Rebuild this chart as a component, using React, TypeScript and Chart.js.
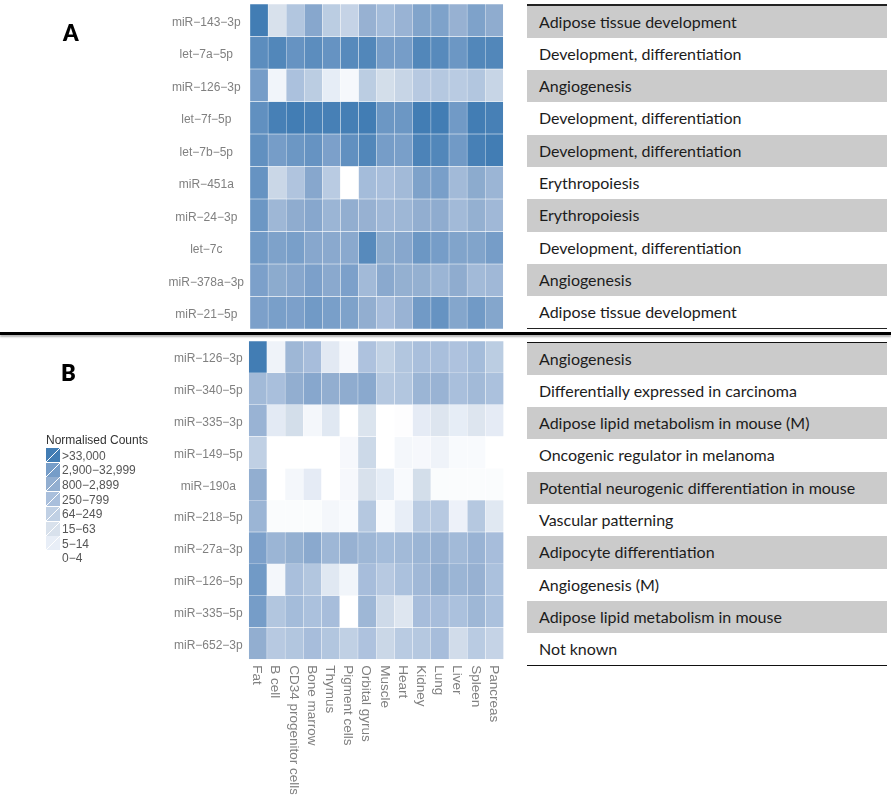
import React, { useEffect, useRef } from "react";
import { Chart, registerables } from "chart.js";

Chart.register(...registerables);

const tissues = ["Fat", "B cell", "CD34 progenitor cells", "Bone marrow", "Thymus", "Pigment cells", "Orbital gyrus", "Muscle", "Heart", "Kidney", "Lung", "Liver", "Spleen", "Pancreas"];

const labelsA = ["miR−143−3p", "let−7a−5p", "miR−126−3p", "let−7f−5p", "let−7b−5p", "miR−451a", "miR−24−3p", "let−7c", "miR−378a−3p", "miR−21−5p"];
const labelsB = ["miR−126−3p", "miR−340−5p", "miR−335−3p", "miR−149−5p", "miR−190a", "miR−218−5p", "miR−27a−3p", "miR−126−5p", "miR−335−5p", "miR−652−3p"];

const notesA = ["Adipose tissue development", "Development, differentiation", "Angiogenesis", "Development, differentiation", "Development, differentiation", "Erythropoiesis", "Erythropoiesis", "Development, differentiation", "Angiogenesis", "Adipose tissue development"];
const notesB = ["Angiogenesis", "Differentially expressed in carcinoma", "Adipose lipid metabolism in mouse (M)", "Oncogenic regulator in melanoma", "Potential neurogenic differentiation in mouse", "Vascular patterning", "Adipocyte differentiation", "Angiogenesis (M)", "Adipose lipid metabolism in mouse", "Not known"];

// Estimated colour class per cell (0 = 0–4 counts … 7 = >33,000 counts), fractions for in-between shades.
const a143 = [7.0, 2.0, 3.6, 5.4, 3.2, 2.8, 4.8, 4.2, 4.7, 5.6, 5.7, 4.8, 5.7, 5.1];
const a7a = [6.5, 6.7, 6.3, 6.5, 6.3, 6.6, 6.7, 6.0, 6.0, 6.7, 6.6, 6.2, 6.7, 6.7];
const a126 = [6.0, 0.6, 3.9, 3.2, 1.1, 0.4, 3.2, 2.2, 2.7, 3.4, 3.5, 3.3, 3.6, 2.7];
const a7f = [6.4, 6.9, 7.0, 6.9, 6.9, 6.95, 7.0, 6.2, 6.2, 7.0, 7.0, 6.1, 7.0, 6.9];
const a7b = [6.4, 6.0, 6.2, 6.3, 5.8, 6.4, 6.7, 6.0, 5.9, 6.8, 6.7, 6.1, 6.9, 7.0];
const a451 = [6.3, 2.6, 3.7, 5.4, 3.3, 0, 4.2, 4.0, 4.3, 5.7, 5.9, 4.3, 5.2, 4.6];
const a24 = [6.2, 4.5, 5.1, 5.4, 4.6, 5.0, 4.8, 4.4, 4.5, 5.0, 5.1, 4.3, 4.9, 4.4];
const a7c = [6.1, 5.7, 5.9, 5.4, 5.3, 5.3, 6.6, 5.2, 5.4, 6.2, 6.0, 5.6, 5.6, 6.0];
const a378 = [5.8, 5.2, 5.4, 5.8, 5.3, 5.8, 4.3, 5.3, 4.9, 4.9, 4.6, 5.1, 4.3, 4.4];
const a21 = [5.8, 5.9, 5.8, 6.1, 5.9, 5.7, 5.0, 4.1, 4.7, 6.1, 6.3, 5.5, 6.1, 5.5];

const b126a = [7.0, 0.7, 4.5, 4.1, 1.4, 0.4, 3.8, 2.9, 3.6, 4.0, 4.0, 3.8, 4.2, 3.2];
const b340 = [4.3, 4.0, 5.0, 5.4, 5.0, 5.1, 5.3, 3.5, 3.6, 4.6, 4.7, 4.0, 4.3, 3.9];
const b335a = [4.7, 1.3, 2.2, 0.5, 1.5, 0, 1.8, 0, 0.1, 1.2, 1.7, 1.1, 1.7, 1.2];
const b149 = [3.0, 0, 0, 0, 0, 0.4, 2.5, 0, 0.5, 0.4, 0.7, 0.3, 0.3, 0];
const b190 = [5.0, 0, 0.5, 1.2, 0, 0.4, 2.0, 1.1, 0.3, 2.2, 0.2, 0.2, 0.2, 0.2];
const b218 = [4.6, 0.2, 0.2, 0.2, 0.5, 0.3, 3.5, 0.3, 1.0, 3.3, 3.4, 0.8, 3.5, 1.5];
const b27 = [5.8, 4.6, 4.9, 5.3, 4.5, 4.8, 4.5, 4.2, 4.3, 4.6, 4.8, 4.3, 4.7, 4.1];
const b126b = [6.1, 0.5, 4.0, 3.6, 1.5, 0.6, 4.1, 3.4, 3.9, 4.4, 5.0, 4.6, 4.8, 3.9];
const b335b = [6.0, 3.6, 4.2, 3.9, 4.1, 0, 4.5, 2.4, 1.6, 4.1, 4.1, 3.9, 4.5, 3.9];
const b652 = [5.0, 3.4, 3.6, 4.1, 3.6, 3.0, 3.8, 2.6, 3.3, 3.5, 4.1, 2.3, 3.3, 2.8];

const rowsA = [a143, a7a, a126, a7f, a7b, a451, a24, a7c, a378, a21];
const rowsB = [b126a, b340, b335a, b149, b190, b218, b27, b126b, b335b, b652];

const legendLabels = [">33,000", "2,900−32,999", "800−2,899", "250−799", "64−249", "15−63", "5−14", "0−4"];
const legendLevels = [7, 6, 5, 4, 3, 2, 1, 0];

const RAMP = [
  [255, 255, 255],
  [232, 238, 247],
  [216, 225, 236],
  [192, 208, 228],
  [169, 191, 220],
  [146, 174, 208],
  [118, 157, 200],
  [66, 125, 180],
];

function colorOf(level: number) {
  const lo = Math.min(Math.floor(level), 6);
  const t = level - lo;
  const c = RAMP[lo].map((v, i) => Math.round(v + (RAMP[lo + 1][i] - v) * t));
  return `rgb(${c[0]},${c[1]},${c[2]})`;
}

const noPadding = () => ({ left: 0, top: 0, right: 0, bottom: 0 });

function makeHeat(canvas: HTMLCanvasElement, rowLabels: string[], rows: number[][], padding: any, axisWidth: number, showX: boolean, xHeight: number) {
  return new Chart(canvas, {
    type: "bar",
    data: {
      labels: tissues,
      datasets: rows.map((row, r) => ({
        label: rowLabels[r],
        data: row.map(() => [r, r + 1]),
        backgroundColor: row.map(colorOf),
        borderColor: "rgba(255,255,255,0.32)",
        borderWidth: 0.5,
        borderSkipped: false,
        barPercentage: 1,
        categoryPercentage: 1,
        grouped: false,
      })),
    } as any,
    options: {
      responsive: false,
      animation: false,
      devicePixelRatio: 1,
      events: [],
      layout: { autoPadding: false, padding },
      plugins: { legend: { display: false }, tooltip: { enabled: false } },
      scales: {
        x: {
          display: showX,
          grid: { display: false, drawTicks: false },
          border: { display: false },
          ticks: {
            autoSkip: false,
            minRotation: -90,
            maxRotation: -90,
            padding: 6,
            labelOffset: -1,
            color: "#808080",
            font: { family: "'Liberation Sans'", size: 13.5 },
          },
          afterBuildTicks: (scale: any) => {
            scale._getXAxisLabelAlignment = () => "left";
          },
          afterFit: (scale: any) => {
            scale.height = xHeight;
            scale.getPadding = noPadding;
          },
        },
        y: {
          reverse: true,
          min: 0,
          max: rows.length,
          grid: { display: false, drawTicks: false },
          border: { display: false },
          ticks: {
            autoSkip: false,
            crossAlign: "center",
            padding: 6,
            labelOffset: 2,
            color: "#808080",
            font: { family: "'Liberation Sans'", size: 12 },
            callback: (_v: any, i: number) => rowLabels[i],
          },
          afterBuildTicks: (scale: any) => {
            scale.ticks = rowLabels.map((_, i) => ({ value: i + 0.5 }));
          },
          afterFit: (scale: any) => {
            scale.width = axisWidth;
            scale.paddingTop = 0;
            scale.paddingBottom = 0;
            scale.getPadding = noPadding;
          },
        },
      },
    } as any,
  });
}

function NoteTable({ notes, top, rowH }: { notes: string[]; top: number; rowH: number }) {
  return (
    <>
      {notes.map((n, i) => (
        <div
          key={i}
          style={{
            position: "absolute",
            left: 527,
            width: 360,
            top: top + i * rowH,
            height: rowH,
            lineHeight: `${rowH}px`,
            paddingLeft: 12,
            boxSizing: "border-box",
            background: i % 2 === 0 ? "#cbcbcb" : "transparent",
            fontFamily: "Lato, 'Open Sans', sans-serif",
            fontSize: 16,
            color: "#1c1c1c",
            whiteSpace: "nowrap",
          }}
        >
          {n}
        </div>
      ))}
    </>
  );
}

function Rule({ top, h, color = "#222" }: { top: number; h: number; color?: string }) {
  return <div style={{ position: "absolute", left: 527, width: 360, top, height: h, background: color }} />;
}

export default function App() {
  const refA = useRef<HTMLCanvasElement>(null);
  const refB = useRef<HTMLCanvasElement>(null);

  useEffect(() => {
    const a = makeHeat(refA.current!, labelsA, rowsA, { top: 4, bottom: 3, left: 0, right: 11.7 }, 250, false, 0);
    const b = makeHeat(refB.current!, labelsB, rowsB, { top: 6, bottom: 5.7, left: 0, right: 11.3 }, 248.7, true, 135);
    return () => {
      a.destroy();
      b.destroy();
    };
  }, []);

  const heading = (t: string, left: number, top: number) => (
    <div style={{ position: "absolute", left, top, fontFamily: "Lato, sans-serif", fontWeight: 800, fontSize: 22, lineHeight: "24px", color: "#000" }}>{t}</div>
  );

  return (
    <div style={{ position: "absolute", left: 0, top: 0, width: 891, height: 800, background: "#fff", overflow: "hidden" }}>
      <canvas ref={refA} width={515} height={332} style={{ position: "absolute", left: 0, top: 0, width: 515, height: 332 }} />
      <canvas ref={refB} width={515} height={465} style={{ position: "absolute", left: 0, top: 335, width: 515, height: 465 }} />

      <NoteTable notes={notesA} top={5.5} rowH={32.3} />
      <NoteTable notes={notesB} top={342.5} rowH={32.3} />
      <Rule top={4} h={1.5} />
      <Rule top={327.5} h={1.5} />
      <Rule top={341.5} h={1} color="#111" />
      <Rule top={664.5} h={1.2} color="#111" />

      <div style={{ position: "absolute", left: 0, width: 891, top: 332.3, height: 3.2, background: "#000", boxShadow: "0 2px 2px rgba(0,0,0,0.3)" }} />

      {heading("A", 63, 21)}
      {heading("B", 61, 361)}

      <div style={{ position: "absolute", left: 46, top: 433, fontFamily: "'Liberation Sans'", fontSize: 12, lineHeight: "14px", color: "#333", whiteSpace: "nowrap" }}>Normalised Counts</div>
      {legendLabels.map((l, i) => (
        <React.Fragment key={l}>
          <div
            style={{
              position: "absolute",
              left: 46,
              top: 448 + i * 14.7,
              width: 14,
              height: 14,
              background:
                legendLevels[i] === 0
                  ? "#fff"
                  : `linear-gradient(135deg, ${colorOf(legendLevels[i])} 48%, rgba(255,255,255,0.35) 49%, rgba(255,255,255,0.35) 52%, ${colorOf(legendLevels[i])} 53%)`,
            }}
          />
          <div style={{ position: "absolute", left: 62, top: 448.5 + i * 14.7, fontFamily: "'Liberation Sans'", fontSize: 12, lineHeight: "14px", color: "#555", whiteSpace: "nowrap" }}>{l}</div>
        </React.Fragment>
      ))}
    </div>
  );
}
